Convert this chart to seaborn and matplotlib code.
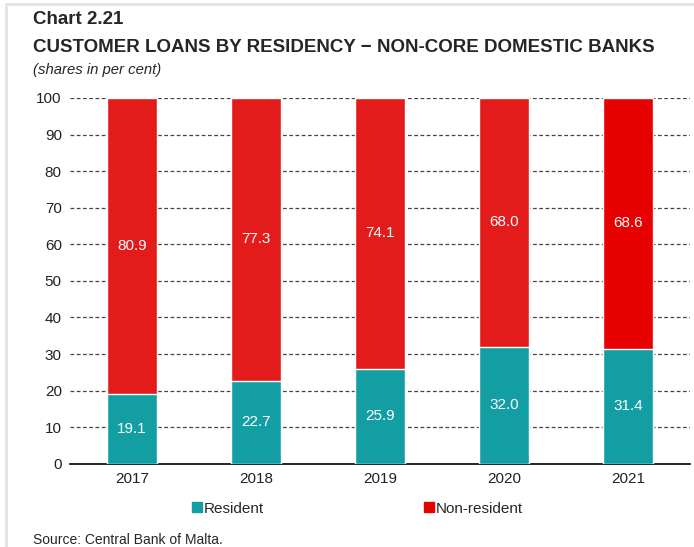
import numpy as np
import pandas as pd
import matplotlib.pyplot as plt
from matplotlib.lines import Line2D
from matplotlib.patches import Patch
import seaborn as sns

years = ["2017", "2018", "2019", "2020", "2021"]
resident = [19.1, 22.7, 25.9, 32.0, 31.4]
non_resident = [80.9, 77.3, 74.1, 68.0, 68.6]

TEAL = "#129ea3"
RED = "#e31b1b"
RED_LAST = "#e60000"

sns.set_style("white")
plt.rcParams["font.family"] = ["Liberation Sans", "DejaVu Sans"]

df = pd.DataFrame({"year": years, "resident": resident, "non_resident": non_resident})
df["total"] = df["resident"] + df["non_resident"]

fig = plt.figure(figsize=(6.94, 5.47), dpi=100)
ax = fig.add_axes([0.101, 0.152, 0.893, 0.669])

# gridlines first so bars sit over them
for v in range(10, 101, 10):
    ax.axhline(v, color="#444444", lw=0.9, ls=(0, (3, 2)), zorder=0)

sns.barplot(data=df, x="year", y="total", color=RED, width=0.4, saturation=1, ax=ax, zorder=2)
sns.barplot(data=df, x="year", y="resident", color=TEAL, width=0.4, saturation=1, ax=ax, zorder=3)
ax.patches[len(years) - 1].set_facecolor(RED_LAST)

for i in range(len(years)):
    ax.text(i, resident[i] / 2, f"{resident[i]:.1f}", ha="center", va="center",
            color="white", fontsize=11, zorder=4)
    ax.text(i, resident[i] + non_resident[i] / 2, f"{non_resident[i]:.1f}", ha="center",
            va="center", color="white", fontsize=11, zorder=4)

ax.set_ylim(0, 100)
ax.set_xlim(-0.5, len(years) - 0.5)
ax.set_yticks(range(0, 101, 10))
ax.set_xlabel("")
ax.set_ylabel("")
ax.tick_params(axis="both", labelsize=11, length=0, colors="#222222")
ax.tick_params(axis="y", pad=6)
ax.tick_params(axis="x", pad=6)
for s in ["top", "right", "left"]:
    ax.spines[s].set_visible(False)
ax.spines["bottom"].set_color("black")
ax.spines["bottom"].set_linewidth(1.2)

handles = [Patch(color=TEAL, label="Resident"), Patch(color=RED_LAST, label="Non-resident")]
fig.legend(handles=handles, loc="center", bbox_to_anchor=(0.515, 0.07), ncol=2, frameon=False,
           fontsize=11, handlelength=0.65, handleheight=0.65, handletextpad=0.1, columnspacing=10.5)

fig.text(0.048, 0.965, "Chart 2.21", fontsize=13.5, fontweight="bold", va="center")
fig.text(0.048, 0.913, "CUSTOMER LOANS BY RESIDENCY \u2212 NON-CORE DOMESTIC BANKS",
         fontsize=13.5, fontweight="bold", va="center")
fig.text(0.048, 0.872, "(shares in per cent)", fontsize=10.7, style="italic", va="center")
fig.text(0.048, 0.013, "Source: Central Bank of Malta.", fontsize=10, va="center")

# light frame on the left and top edges
fig.add_artist(Line2D([0.008, 0.008], [0, 0.993], color="#e4e4e4", lw=2))
fig.add_artist(Line2D([0.008, 1], [0.993, 0.993], color="#e4e4e4", lw=2))

plt.savefig("out.png", dpi=100)
plt.close()
